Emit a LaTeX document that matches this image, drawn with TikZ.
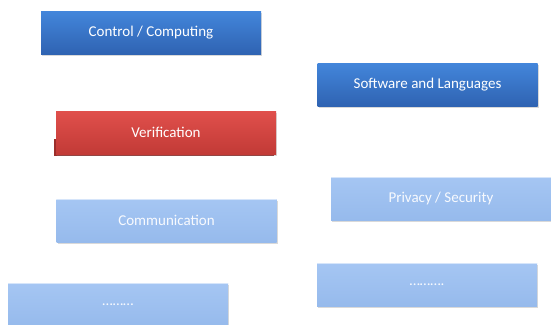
\documentclass[tikz,border=0pt]{standalone}
\usepackage{fontspec}
\setmainfont{Carlito}
\usetikzlibrary{shadows}
\definecolor{blueTop}{HTML}{4386DB}
\definecolor{blueBot}{HTML}{2F63B2}
\definecolor{redTop}{HTML}{E0504C}
\definecolor{redBot}{HTML}{C23A36}
\definecolor{paleTop}{HTML}{A5C6F3}
\definecolor{paleBot}{HTML}{96BAEC}
\tikzstyle{topic} = [rectangle, minimum width=220pt, minimum height=43pt, text centered, text=white, font=\fontsize{15}{17}\selectfont, drop shadow={opacity=0.3, shadow xshift=1pt, shadow yshift=-1.5pt}]
\tikzstyle{main} = [topic, top color=blueTop, bottom color=blueBot]
\tikzstyle{focus} = [topic, top color=redTop, bottom color=redBot]
\tikzstyle{other} = [topic, top color=paleTop, bottom color=paleBot, text=white!92!paleTop,
  path picture={\draw [white!55!paleTop, line width=2.5pt] (path picture bounding box.north west) -- (path picture bounding box.north east);}]
\begin{document}
\begin{tikzpicture}[x=1pt, y=-1pt]
        \useasboundingbox (0,0) rectangle (551,324);

        % darker edge under the red box
        \fill [redBot!80!black] (54,139) rectangle (274,156);

        \node (control) [main] at (151,32.5) {Control / Computing};
        \node (software) [main] at (427.5,84.5) {Software and Languages};
        \node (verif) [focus] at (166,132.5) {Verification};
        \node (comm) [other] at (166.5,220.5) {Communication};
        \node (privacy) [other] at (441,198.5) {Privacy / Security};
        \node (more1) [other] at (118,304.5) {\ldots\ldots\ldots};
        \node (more2) [other] at (427,284.5) {\ldots\ldots\ldots.};

\end{tikzpicture}
\end{document}
